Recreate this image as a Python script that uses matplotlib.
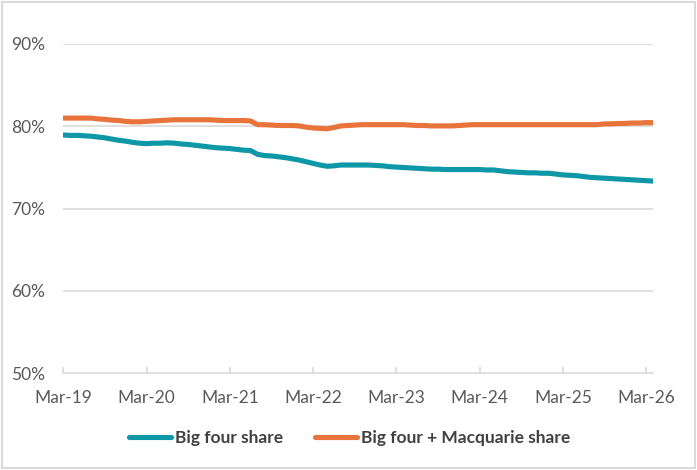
import matplotlib
matplotlib.use("Agg")
import matplotlib.pyplot as plt
from matplotlib.lines import Line2D
from matplotlib.patches import Rectangle

plt.rcParams['font.family'] = ['Lato', 'DejaVu Sans']

# Monthly data, Mar-19 (index 0) to Apr-26 (index 85)
big_four = [
    78.95, 78.9, 78.9, 78.85, 78.8, 78.7, 78.6, 78.45, 78.3, 78.2,
    78.05, 77.95, 77.9, 77.95, 77.95, 78.0, 77.95, 77.85, 77.8, 77.7,
    77.6, 77.5, 77.4, 77.35, 77.3, 77.2, 77.1, 77.05, 76.6, 76.45,
    76.4, 76.3, 76.2, 76.05, 75.9, 75.7, 75.5, 75.3, 75.15, 75.2,
    75.3, 75.3, 75.3, 75.3, 75.3, 75.25, 75.2, 75.1, 75.05, 75.0,
    74.95, 74.9, 74.85, 74.8, 74.8, 74.75, 74.75, 74.75, 74.75, 74.75,
    74.75, 74.7, 74.7, 74.6, 74.5, 74.45, 74.4, 74.35, 74.35, 74.3,
    74.3, 74.2, 74.1, 74.05, 74.0, 73.9, 73.8, 73.75, 73.7, 73.65,
    73.6, 73.55, 73.5, 73.45, 73.4, 73.35,
]
big_four_macq = [
    81.0, 81.0, 81.0, 81.0, 81.0, 80.9, 80.85, 80.75, 80.7, 80.6,
    80.55, 80.55, 80.6, 80.65, 80.7, 80.75, 80.8, 80.8, 80.8, 80.8,
    80.8, 80.8, 80.75, 80.7, 80.7, 80.7, 80.7, 80.65, 80.2, 80.2,
    80.15, 80.1, 80.1, 80.1, 80.05, 79.9, 79.8, 79.75, 79.7, 79.85,
    80.05, 80.1, 80.15, 80.2, 80.2, 80.2, 80.2, 80.2, 80.2, 80.2,
    80.15, 80.1, 80.1, 80.05, 80.05, 80.05, 80.05, 80.1, 80.15, 80.2,
    80.2, 80.2, 80.2, 80.2, 80.2, 80.2, 80.2, 80.2, 80.2, 80.2,
    80.2, 80.2, 80.2, 80.2, 80.2, 80.2, 80.2, 80.2, 80.3, 80.3,
    80.35, 80.35, 80.4, 80.4, 80.45, 80.45,
]
tick_labels = ["Mar-19", "Mar-20", "Mar-21", "Mar-22", "Mar-23", "Mar-24", "Mar-25", "Mar-26"]
y_ticks = [50, 60, 70, 80, 90]
series_names = ["Big four share", "Big four + Macquarie share"]

teal = '#0E97A6'
orange = '#E8743B'
grid_c = '#D9D9D9'
text_c = '#595959'

fig = plt.figure(figsize=(6.97, 4.70), dpi=100)
fig.patches.append(Rectangle((0.003, 0.004), 0.994, 0.992, transform=fig.transFigure,
                             fill=False, edgecolor=grid_c, lw=1.5))
ax = fig.add_axes([0.0908, 0.2057, 0.8461, 0.7007])

x = list(range(len(big_four)))
ax.plot(x, big_four, color=teal, lw=3.7, solid_capstyle='round', zorder=3)
ax.plot(x, big_four_macq, color=orange, lw=3.7, solid_capstyle='round', zorder=3)

ax.set_xlim(0, 85)
ax.set_ylim(50, 90)
ax.set_yticks(y_ticks)
ax.set_yticklabels([f"{v}%" for v in y_ticks])
ax.set_xticks([12 * i for i in range(len(tick_labels))])
ax.set_xticklabels(tick_labels)

for v in y_ticks[1:]:
    ax.axhline(v, color=grid_c, lw=1.2, zorder=1)
for s in ['top', 'right', 'left']:
    ax.spines[s].set_visible(False)
ax.spines['bottom'].set_color(grid_c)
ax.spines['bottom'].set_linewidth(1.2)

ax.tick_params(axis='y', length=0, pad=13, labelsize=12.5, labelcolor=text_c)
ax.tick_params(axis='x', direction='in', length=4, width=1.2, color=grid_c,
               pad=12, labelsize=12.5, labelcolor=text_c)

handles = [Line2D([0], [0], color=teal, lw=3.7, solid_capstyle='round'),
           Line2D([0], [0], color=orange, lw=3.7, solid_capstyle='round')]
leg = fig.legend(handles, series_names, loc='center', bbox_to_anchor=(0.502, 0.068),
                 ncol=2, frameon=False, handlelength=2.4, handletextpad=0.25,
                 columnspacing=1.85, prop={'weight': 'bold', 'size': 12.5})
for t in leg.get_texts():
    t.set_color('#404040')

fig.savefig('out.png', dpi=100)
